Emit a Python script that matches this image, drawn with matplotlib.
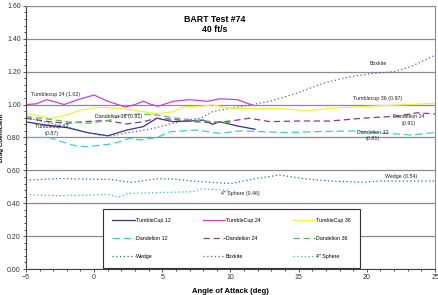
import numpy as np
import matplotlib
matplotlib.use('Agg')
import matplotlib.pyplot as plt

plt.rcParams['font.family'] = ['Liberation Sans', 'DejaVu Sans']

# values (angle in deg, drag coefficient)
tc12_x = [-5, -3.5, -2, -0.5, 1, 2.4, 3.6, 4.6, 5.8, 7, 8, 8.7, 9.2, 10.5, 11.8]
tc12_y = [0.895, 0.875, 0.86, 0.83, 0.81, 0.845, 0.866, 0.917, 0.896, 0.90, 0.906, 0.88, 0.896, 0.87, 0.85]

tc24_x = [-5, -4.2, -3.5, -2.8, -2.2, -1, 0, 1, 2.3, 3, 3.6, 4.2, 4.7, 5.8, 7, 8.3, 9.2, 10.5, 11.5]
tc24_y = [1.00, 1.005, 1.03, 1.015, 1.00, 1.035, 1.058, 1.02, 0.985, 1.0, 1.02, 1.0, 0.99, 1.02, 1.03, 1.02, 1.035, 1.03, 1.00]

tc36_x = [-5, -3.2, -2, -1, 0.4, 1.65, 2.9, 4.3, 4.8, 5.8, 6.3, 6.8, 7.8, 8.7, 10, 11.5, 13.6, 15.6, 17.3, 19, 21, 23, 25]
tc36_y = [0.947, 0.917, 0.937, 0.967, 0.983, 0.977, 0.967, 0.947, 0.947, 0.957, 0.977, 0.987, 0.99, 0.998, 0.977, 0.975,
          0.977, 0.961, 0.977, 0.985, 0.993, 1.0, 1.008]

d12_x = [-5, -3.3, -2.2, -1.3, -0.5, 1.2, 1.9, 2.6, 3.4, 4.6, 5.6, 7.5, 9.2, 10.7, 12.4, 14, 16.1, 19, 21.5, 23.2, 25]
d12_y = [0.80, 0.80, 0.77, 0.748, 0.744, 0.76, 0.775, 0.795, 0.785, 0.80, 0.835, 0.845, 0.825, 0.84, 0.835, 0.83,
         0.835, 0.84, 0.825, 0.815, 0.83]

d24_x = [-5, -3.3, -2, -0.8, 0.9, 2.4, 3.6, 4.6, 5.8, 7.3, 8.7, 10, 11.4, 12.9, 14.9, 17.3, 19.7, 22.2, 23.7, 25]
d24_y = [0.917, 0.896, 0.886, 0.896, 0.903, 0.882, 0.896, 0.917, 0.91, 0.896, 0.89, 0.90, 0.917, 0.896, 0.90, 0.90,
         0.917, 0.93, 0.95, 0.943]

d36_x = [-5, -3.2, -2, -0.5, 0.4, 1.2, 2.1, 3.4, 4.6, 5.8, 7.3, 8.7, 10]
d36_y = [0.927, 0.91, 0.896, 0.886, 0.896, 0.906, 0.937, 0.943, 0.937, 0.92, 0.906, 0.896, 0.89]

wedge_x = [-5, -2.6, -0.2, 1.2, 2, 2.75, 4.7, 5.9, 7.2, 8.6, 10, 11.9, 13.6, 15.3, 17.3, 19.7, 21, 23, 25]
wedge_y = [0.54, 0.55, 0.547, 0.545, 0.535, 0.527, 0.55, 0.547, 0.535, 0.527, 0.52, 0.55, 0.572, 0.55, 0.535, 0.528,
           0.535, 0.535, 0.535]

box_x = [-5, -3.2, -2, -0.8, 0.4, 1.3, 2.9, 4.1, 5.3, 6.8, 7.8, 8.7, 10, 11.6, 12.9, 14.9, 16.8, 18.8, 20.5, 22, 23.2, 25]
box_y = [0.92, 0.886, 0.866, 0.835, 0.815, 0.81, 0.835, 0.85, 0.876, 0.906, 0.917, 0.957, 0.977, 1.0, 1.02, 1.07,
         1.13, 1.17, 1.19, 1.20, 1.23, 1.30]

sph_x = [-5, -2.6, -0.2, 1.0, 1.8, 2.5, 4.7, 7.2, 7.9, 9.6, 10]
sph_y = [0.452, 0.446, 0.45, 0.454, 0.436, 0.46, 0.465, 0.47, 0.487, 0.48, 0.478]

notes = ['Tumblecup 24 (1.02)', 'Dandelion 36 (0.91)', 'Tumblecup 12\n(0.87)', 'Boxkite',
         'Tumblecup 36 (0.97)', 'Dandelion 24\n(0.91)', 'Dandelion 12\n(0.81)', 'Wedge (0.54)', '4" Sphere (0.46)']
note_x = [-2.8, 1.8, -3.1, 20.8, 20.8, 23.1, 20.4, 22.5, 10.7]
note_y = [1.062, 0.93, 0.845, 1.247, 1.034, 0.906, 0.81, 0.562, 0.458]

fig = plt.figure(figsize=(4.39, 2.95), dpi=100)
ax = fig.add_axes([0.059, 0.088, 0.932, 0.892])

ax.plot(tc12_x, tc12_y, color='#33338f', lw=0.9, label='TumbleCup 12')
ax.plot(d12_x, d12_y, color='#44cccc', lw=0.9, dashes=(6, 3), label='Dandelion 12')
ax.plot(wedge_x, wedge_y, color='#1a7a6a', lw=0.9, ls=(0, (1, 2)), label='Wedge')
ax.plot(tc24_x, tc24_y, color='#d040d0', lw=0.9, label='TumbleCup 24')
ax.plot(d24_x, d24_y, color='#8a3a8a', lw=0.9, dashes=(5, 3), label='Dandelion 24')
ax.plot(box_x, box_y, color='#5a5ac0', lw=0.9, ls=(0, (1, 2)), label='Boxkite')
ax.plot(tc36_x, tc36_y, color='#f0f040', lw=0.9, label='TumbleCup 36')
ax.plot(d36_x, d36_y, color='#50c050', lw=0.9, dashes=(5, 3), label='Dandelion 36')
ax.plot(sph_x, sph_y, color='#33bbcc', lw=0.9, ls=(0, (1, 2)), label='4" Sphere')

for t, x, y in zip(notes, note_x, note_y):
    ax.text(x, y, t, fontsize=3.8, ha='center', va='center', color='#222222', linespacing=1.3)

ax.set_xlim(-5, 25)
ax.set_ylim(0, 1.6)
ax.set_xticks(np.arange(-5, 26, 5))
ax.set_xticks(np.arange(-5, 26, 1), minor=True)
ax.set_yticks(np.arange(0, 1.61, 0.2))
ax.set_yticks(np.arange(0, 1.61, 0.04), minor=True)
ax.set_yticklabels(['%.2f' % v for v in np.arange(0, 1.61, 0.2)])
ax.yaxis.grid(True, color='#8c8c8c', lw=0.9)
ax.set_axisbelow(True)
ax.tick_params(labelsize=5, colors='#333333', length=2.5, width=0.6, pad=1.2)
ax.tick_params(which='minor', length=1.5, width=0.5)
for s in ['top', 'right']:
    ax.spines[s].set_color('#8c8c8c')
for s in ['left', 'bottom']:
    ax.spines[s].set_color('#444444')
    ax.spines[s].set_linewidth(0.8)

ax.set_xlabel('Angle of Attack (deg)', fontsize=5.5, fontweight='bold', labelpad=5)
ax.set_ylabel('Drag Coefficient', fontsize=4.5, fontweight='bold')
ax.yaxis.set_label_coords(-0.054, 0.5)
ax.text(0.462, 0.965, 'BART Test #74\n40 ft/s', transform=ax.transAxes, fontsize=6.3,
        fontweight='bold', ha='center', va='top', linespacing=1.1)

leg = ax.legend(loc='center', bbox_to_anchor=(0.5024, 0.116), ncol=3, fontsize=3.8,
                handlelength=4.2, handletextpad=0.2, labelspacing=2.5, columnspacing=6.1,
                borderpad=1.7, borderaxespad=0, fancybox=False, framealpha=1, edgecolor='#333333')
leg.get_frame().set_linewidth(0.8)

fig.savefig('out.png', dpi=100)
